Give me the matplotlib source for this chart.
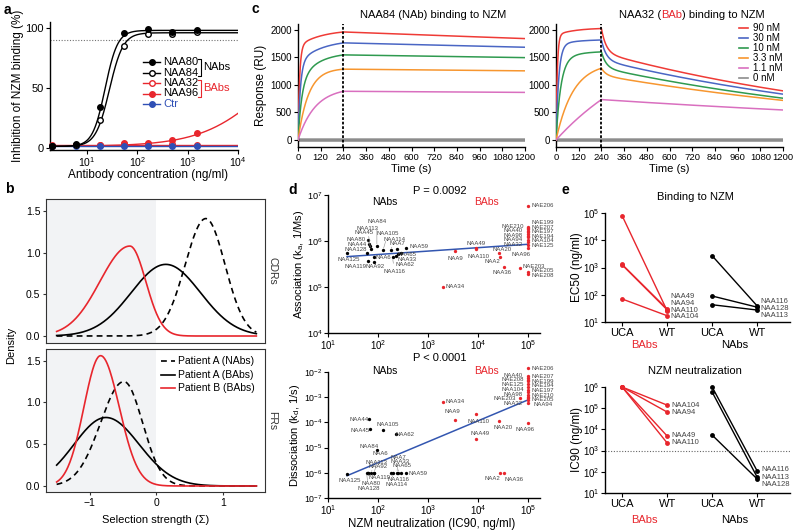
import matplotlib
matplotlib.use('Agg')
import matplotlib.pyplot as plt
import numpy as np
from matplotlib.lines import Line2D
import matplotlib.transforms as mtransforms

plt.rcParams['font.family'] = ['Liberation Sans', 'DejaVu Sans']
plt.rcParams['mathtext.default'] = 'regular'

W, H = 800, 532
RED = '#e8262d'
CTR_BLUE = '#2f4fb5'
FIT_BLUE = '#3356b0'
LABEL_GREY = '#444444'

#======================================================================================
# a : inhibition of NZM binding
conc = [2.06, 6.17, 18.5, 55.6, 167, 500, 1500]
naa80 = [1, 3, 34, 96, 99, 97, 98]
naa84 = [1, 2, 23, 85, 95, 95, 97]
naa32 = [2, 2, 2, 3, 3, 3, 2]
naa96 = [1, 2, 2, 4, 4, 6.5, 12.5]
ctr = [1, 1, 1.5, 1.5, 1.5, 1.5, 1.5]
# Hill fits: bottom, top, EC50, slope
fit80 = (1, 98, 23, 3.5)
fit84 = (1, 96, 28, 3.2)
fit32 = (2, 2, 1, 1)
fit96 = (1, 100, 4.2e4, 0.66)
fitctr = (1.5, 1.5, 1, 1)

# b : selection strength densities (mode, sd left, sd right, peak height)
cdr_a_nabs = (0.74, 0.31, 0.29, 1.41)
cdr_a_babs = (0.14, 0.52, 0.52, 0.86)
cdr_b_babs = (-0.40, 0.45, 0.24, 1.08)
fr_a_nabs = (-0.49, 0.35, 0.28, 1.25)
fr_a_babs = (-0.76, 0.48, 0.50, 0.82)
fr_b_babs = (-0.84, 0.25, 0.28, 1.56)

# c : SPR sensorgrams (90, 30, 10, 3.3, 1.1, 0 nM)
spr_labels = ['90 nM', '30 nM', '10 nM', '3.3 nM', '1.1 nM', '0 nM']
spr_colors = ['#ef3b36', '#4a66c4', '#2f9a4f', '#f7962f', '#d96fbf', '#8c8c8c']
naa84_rf = [1700, 1400, 1050, 1300, 950, 0]
naa84_kf = [0.12, 0.08, 0.05, 0.018, 0.011, 0]
naa84_rs = [300, 420, 540, 0, 0, 0]
naa84_ks = [0.008, 0.008, 0.01, 0, 0, 0]
naa84_fast = [0, 0, 0, 0, 0, 0]
naa84_k1 = [0, 0, 0, 0, 0, 0]
naa84_k2 = [6.6e-5, 4.8e-5, 3.4e-5, 2.5e-5, 2.4e-5, 0]
naa32_rf = [1900, 1720, 1450, 1400, 2000, 0]
naa32_kf = [0.15, 0.07, 0.04, 0.011, 0.0019, 0]
naa32_rs = [130, 100, 160, 0, 0, 0]
naa32_ks = [0.01, 0.01, 0.01, 0, 0, 0]
naa32_fast = [0.216, 0.2, 0.18, 0.1, 0.0, 0]
naa32_k1 = [0.04, 0.04, 0.04, 0.04, 0.04, 0]
naa32_k2 = [6e-4, 5.8e-4, 5.7e-4, 5.1e-4, 3.1e-4, 0]

# d : kinetics vs neutralization
nab_names = ['NAA125', 'NAA128', 'NAA44', 'NAA80', 'NAA45', 'NAA113', 'NAA84', 'NAA105', 'NAA114',
             'NAA7', 'NAA59', 'NAA6', 'NAA65', 'NAA33', 'NAA62', 'NAA116', 'NAA119', 'NAA92']
nab_ic90 = [24, 59, 66, 63, 69, 71, 95, 126, 182, 240, 363, 83, 288, 251, 229, 195, 63, 85]
nab_ka = [5.4e5, 5.4e5, 8.5e5, 1.05e6, 7.8e5, 6.6e5, 7.8e5, 6.3e5, 6.3e5,
          6.6e5, 7.2e5, 4.6e5, 5.6e5, 5.1e5, 4.8e5, 4.4e5, 3.7e5, 3.5e5]
nab_kd = [8.9e-7, 1e-6, 1.35e-4, 1e-6, 5.4e-5, 1e-6, 7.9e-6, 5.0e-5, 1e-6,
          1e-6, 9.5e-7, 1e-6, 1e-6, 1e-6, 3.5e-5, 1e-6, 1e-6, 1e-6]
bab_names = ['NAA34', 'NAA9', 'NAA49', 'NAA110', 'NAA20', 'NAA2', 'NAA36', 'NAE203', 'NAA96',
             'NAE206', 'NAE205', 'NAE208', 'NAE199', 'NAE207', 'NAE197', 'NAE194', 'NAA104',
             'NAE125', 'NAE210', 'NAA40', 'NAA98', 'NAA94', 'NAA32']
bab_ic90 = [2000, 3500, 9300, 9300, 26000, 27500, 33000, 68000, 1e5,
            1e5, 1e5, 1e5, 1e5, 1e5, 1e5, 1e5, 1e5, 1e5, 1e5, 1e5, 1e5, 1e5, 1e5]
bab_ka = [1.0e5, 6.0e5, 6.9e5, 6.6e5, 5.4e5, 4.6e5, 2.75e5, 2.6e5, 6.9e5,
          5.9e6, 2.1e5, 1.95e5, 2.0e6, 1.8e6, 1.6e6, 1.4e6, 1.23e6,
          8.1e5, 1.9e6, 1.66e6, 1.3e6, 1.07e6, 9.5e5]
bab_kd = [6.6e-4, 1.3e-4, 2.2e-5, 2.1e-4, 1.15e-4, 9.5e-7, 9.5e-7, 9.1e-4, 9.1e-5,
          1.4e-2, 7.6e-4, 5.0e-3, 4.4e-3, 5.6e-3, 2.0e-3, 2.6e-3, 1.6e-3,
          3.3e-3, 1.2e-3, 7.1e-3, 9.8e-4, 6.0e-4, 8.9e-4]
# log-log regression lines (slope, intercept)
fit_ka = (0.0742, 5.558)
fit_kd = (0.831, -7.262)

# e : UCA vs WT
ec50_babs_uca = [8e4, 1300, 1250, 70]
ec50_babs_wt = [26, 30, 28, 17]
ec50_babs_names = ['NAA49', 'NAA94', 'NAA110', 'NAA104']
ec50_nabs_uca = [2700, 90, 43]
ec50_nabs_wt = [39, 35, 27.5]
ec50_nabs_names = ['NAA116', 'NAA128', 'NAA113']
ic90_babs_uca = [1e6, 1e6, 1e6, 1e6]
ic90_babs_wt = [1.4e5, 6.6e4, 4900, 2300]
ic90_babs_names = ['NAA104', 'NAA94', 'NAA49', 'NAA110']
ic90_nabs_uca = [1e6, 5.8e5, 5400]
ic90_nabs_wt = [110, 56, 46]
ic90_nabs_names = ['NAA116', 'NAA113', 'NAA128']
e_ticks = ['UCA', 'WT', 'UCA', 'WT']

#======================================================================================
fig = plt.figure(figsize=(W / 100, H / 100), dpi=100)
renderer = fig.canvas.get_renderer()


def box(l, t, r, b):
    return [l / W, 1 - b / H, (r - l) / W, (b - t) / H]


def ftext(x, y, s, **kw):
    kw.setdefault('ha', 'center')
    kw.setdefault('va', 'center')
    return fig.text(x / W, 1 - y / H, s, **kw)


def prism(ax, fs=7):
    for s in ['top', 'right']:
        ax.spines[s].set_visible(False)
    for s in ['left', 'bottom']:
        ax.spines[s].set_linewidth(1)
    ax.tick_params(direction='out', length=3, width=0.8, labelsize=fs, pad=1.5)
    ax.tick_params(which='minor', length=0)


def hill(x, p):
    b, t, ec, h = p
    return b + (t - b) / (1 + (ec / x) ** h)


def split_normal(x, p):
    mu, sl, sr, peak = p
    s = np.where(x < mu, sl, sr)
    return peak * np.exp(-0.5 * ((x - mu) / s) ** 2)


def sensorgram(t, rf, kf, rs, ks, f, k1, k2):
    assoc = rf * (1 - np.exp(-kf * t)) + rs * (1 - np.exp(-ks * t))
    r240 = rf * (1 - np.exp(-kf * 240)) + rs * (1 - np.exp(-ks * 240))
    dt = np.clip(t - 240, 0, None)
    dissoc = r240 * (f * np.exp(-k1 * dt) + (1 - f) * np.exp(-k2 * dt))
    return np.where(t <= 240, assoc, dissoc)


# panel letters
for letter, x, y in [('a', 7, 10), ('b', 9, 189), ('c', 255, 9), ('d', 293, 190), ('e', 565, 190)]:
    ftext(x, y, letter, fontsize=10, fontweight='bold')

#======================================================================================
# a
ax = fig.add_axes(box(50, 22, 238, 150))
prism(ax, 8)
ax.tick_params(axis='x', labelsize=7.5, pad=1)
ax.set_xscale('log')
ax.set_xlim(1.85, 1e4)
ax.set_ylim(-2, 105)
ax.set_xticks([10, 100, 1000, 10000])
ax.set_yticks([0, 50, 100])
ax.minorticks_off()
ax.axhline(90, color='0.45', ls=(0, (1, 1.5)), lw=0.8)
xs = np.logspace(np.log10(1.85), 4, 400)
series_a = [(naa32, fit32, RED, False), (naa96, fit96, RED, True), (ctr, fitctr, CTR_BLUE, True),
            (naa84, fit84, 'k', False), (naa80, fit80, 'k', True)]
for ys, p, c, filled in series_a:
    ax.plot(xs, hill(xs, p), color=c, lw=1)
    ax.plot(conc, ys, 'o', color=c, ms=4, mfc=c if filled else 'white', mew=1, clip_on=False, zorder=3)
ftext(18, 86, 'Inhibition of NZM binding (%)', fontsize=8.5, rotation=90)
ftext(148, 175, 'Antibody concentration (ng/ml)', fontsize=8.5)

leg_a = [('NAA80', 'k', True, 'k'), ('NAA84', 'k', False, 'k'), ('NAA32', RED, False, 'k'),
         ('NAA96', RED, True, 'k'), ('Ctr', CTR_BLUE, True, CTR_BLUE)]
rows_a = [62, 72.5, 83, 93.5, 104]
leg_texts = []
for (lab, c, filled, tc), yp in zip(leg_a, rows_a):
    fig.add_artist(Line2D([143 / W, 160 / W], [1 - yp / H] * 2, color=c, lw=1))
    fig.add_artist(Line2D([152 / W], [1 - yp / H], marker='o', color=c, ms=4,
                          mfc=c if filled else 'white', mew=1))
    leg_texts.append(ftext(163, yp, lab, fontsize=8, color=tc, ha='left'))
for (i0, i1, txt, c) in [(0, 1, 'NAbs', 'k'), (2, 3, 'BAbs', RED)]:
    xb = max(leg_texts[i].get_window_extent(renderer).x1 for i in (i0, i1)) + 3
    y0, y1 = rows_a[i0] - 3.5, rows_a[i1] + 3.5
    fig.add_artist(Line2D([(xb - 3) / W, xb / W, xb / W, (xb - 3) / W],
                          [1 - y0 / H, 1 - y0 / H, 1 - y1 / H, 1 - y1 / H], color=c, lw=0.8))
    ftext(xb + 1.5, (rows_a[i0] + rows_a[i1]) / 2, txt, fontsize=8, color=c, ha='left')

#======================================================================================
# b
sel = np.linspace(-1.5, 1.5, 301)
b_panels = [((46, 199, 265, 343), (-0.084, 1.645), [cdr_a_nabs, cdr_a_babs, cdr_b_babs], 'CDRs', False),
            ((46, 349, 265, 492), (-0.072, 1.64), [fr_a_nabs, fr_a_babs, fr_b_babs], 'FRs', True)]
b_styles = [dict(color='k', ls=(0, (3.5, 2.5))), dict(color='k', ls='-'), dict(color=RED, ls='-')]
for rect, ylim, params, strip, bottom in b_panels:
    ax = fig.add_axes(box(*rect))
    ax.set_xlim(-1.66, 1.63)
    ax.set_ylim(*ylim)
    ax.axvspan(-1.66, 0, color='#f2f3f5', lw=0)
    for p, st in zip(params, b_styles):
        ax.plot(sel, split_normal(sel, p), lw=1.2, **st)
    for s in ax.spines.values():
        s.set_color('#333333')
        s.set_linewidth(0.8)
    ax.set_yticks([0, 0.5, 1.0, 1.5])
    ax.set_yticklabels(['0.0', '0.5', '1.0', '1.5'])
    ax.tick_params(labelsize=7.5, length=2.5, width=0.8, pad=1.5, color='#333333')
    if bottom:
        ax.set_xticks([-1, 0, 1])
    else:
        ax.set_xticks([])
    ftext(272, (rect[1] + rect[3]) / 2, strip, fontsize=7.5, rotation=270, color='#333333')
ftext(11, 345, 'Density', fontsize=8, rotation=90)
ftext(156, 520, 'Selection strength (Σ)', fontsize=8)
leg_b = ['Patient A (NAbs)', 'Patient A (BAbs)', 'Patient B (BAbs)']
for lab, st, yp in zip(leg_b, b_styles, [361, 375, 388]):
    fig.add_artist(Line2D([161 / W, 175 / W], [1 - yp / H] * 2, lw=1.2, **st))
    ftext(178, yp, lab, fontsize=7.5, ha='left')

#======================================================================================
# c
t = np.arange(0, 1201)
spr_sets = [((298, 24, 525, 147), naa84_rf, naa84_kf, naa84_rs, naa84_ks, naa84_fast, naa84_k1, naa84_k2),
            ((556, 24, 783, 147), naa32_rf, naa32_kf, naa32_rs, naa32_ks, naa32_fast, naa32_k1, naa32_k2)]
c_axes = []
for rect, rf, kf, rs, ks, f, k1, k2 in spr_sets:
    ax = fig.add_axes(box(*rect))
    prism(ax, 7)
    ax.set_xlim(0, 1200)
    ax.set_ylim(-126, 2100)
    for i in range(len(spr_labels)):
        y = sensorgram(t, rf[i], kf[i], rs[i], ks[i], f[i], k1[i], k2[i])
        ax.plot(t, y, color=spr_colors[i], lw=2.5 if i == 5 else 1.1, zorder=3 if i < 5 else 2)
    ax.axvline(240, color='k', ls=(0, (1.5, 1)), lw=1.3, zorder=4)
    ax.set_xticks(np.arange(0, 1201, 120))
    ax.set_yticks([0, 500, 1000, 1500, 2000])
    ax.tick_params(axis='x', labelsize=6.8)
    ax.set_xlabel('Time (s)', fontsize=8, labelpad=1)
    c_axes.append(ax)
c_axes[0].set_ylabel('Response (RU)', fontsize=8.5, labelpad=2)
ftext(433, 15, 'NAA84 (NAb) binding to NZM', fontsize=8)
parts = [('NAA32 (', 'k'), ('BAb', RED), (') binding to NZM', 'k')]
pieces = [ftext(0, 15, s, color=c, fontsize=8, ha='left') for s, c in parts]
widths = [p.get_window_extent(renderer).width for p in pieces]
xcur = 692 - sum(widths) / 2
for p, w in zip(pieces, widths):
    p.set_x(xcur / W)
    xcur += w
handles = [Line2D([], [], color=c, lw=1.2) for c in spr_colors]
c_axes[1].legend(handles, spr_labels, loc='upper left', bbox_to_anchor=(739 / W, 1 - 23 / H),
                 bbox_transform=fig.transFigure, frameon=False, fontsize=7, handlelength=0.9,
                 handletextpad=0.5, labelspacing=0.0, borderpad=0, borderaxespad=0)

#======================================================================================
# d
nab_top_off = {'NAA125': (2, -6), 'NAA128': (-11, 4), 'NAA44': (-12, 0), 'NAA80': (-12, 1),
               'NAA45': (-6, 13), 'NAA113': (-3, 21), 'NAA84': (0, 24), 'NAA105': (5, 17),
               'NAA114': (3, 11), 'NAA7': (0, 6), 'NAA59': (13, 1), 'NAA6': (9, -1),
               'NAA65': (6, -2), 'NAA33': (9, -5), 'NAA62': (9, -9), 'NAA116': (2, -14),
               'NAA119': (-12, -6), 'NAA92': (1, -5)}
nab_bot_off = {'NAA44': (-10, 0), 'NAA45': (-10, -1), 'NAA105': (5, 5), 'NAA62': (9, -1),
               'NAA84': (-8, 4), 'NAA6': (6, 19), 'NAA125': (3, -6), 'NAA128': (2, -16),
               'NAA80': (3, -11), 'NAA119': (12, -5), 'NAA113': (6, 10), 'NAA92': (4, 6),
               'NAA7': (1, 15), 'NAA33': (2, 11), 'NAA65': (1, 7), 'NAA59': (12, 0),
               'NAA116': (6, -7), 'NAA114': (5, -12)}
bab_top_off = {'NAA34': (12, 0), 'NAA9': (0, -7), 'NAA49': (0, 5), 'NAA110': (2, -7),
               'NAA20': (3, 4), 'NAA2': (-8, -5), 'NAA36': (-2, -6), 'NAE203': (14, 1),
               'NAA96': (-7, -6)}
bab_bot_off = {'NAA34': (12, 0), 'NAA9': (-3, 8), 'NAA110': (2, -7), 'NAA49': (4, 5),
               'NAA20': (4, -7), 'NAA96': (-3, -6), 'NAA2': (-8, -5), 'NAA36': (10, -6)}
# label columns beside the stacked points at IC90 = 1e5
top_right = ['NAE206', 'NAE199', 'NAE207', 'NAE197', 'NAE194', 'NAA104', 'NAE125', 'NAE205', 'NAE208']
top_left = ['NAE210', 'NAA40', 'NAA98', 'NAA94', 'NAA32']
bot_right = ['NAE206', 'NAE207', 'NAE199', 'NAE194', 'NAE197', 'NAE210', 'NAE205', 'NAA94']
bot_left = ['NAA40', 'NAE208', 'NAE125', 'NAA104', 'NAA98', 'NAE203', 'NAA32']


def stacked_offsets(ax, xv, yv, names, group, dx, gap=4.6):
    pts = {n: ax.transData.transform((x, y))[1] for x, y, n in zip(xv, yv, names) if n in group}
    order = sorted(pts, key=lambda n: -pts[n])
    orig = [pts[n] for n in order]
    placed = list(orig)
    for _ in range(200):
        for i in range(len(placed) - 1):
            d = placed[i] - placed[i + 1]
            if d < gap:
                m = (gap - d) / 2
                placed[i] += m
                placed[i + 1] -= m
    return {n: (dx, placed[i] - orig[i]) for i, n in enumerate(order)}


def label_points(ax, xv, yv, names, offsets, default):
    for x, y, n in zip(xv, yv, names):
        dx, dy = offsets.get(n, default)
        lead = abs(dy) > 9
        ax.annotate(n, (x, y), xytext=(dx, dy), textcoords='offset pixels', fontsize=4.3,
                    color=LABEL_GREY, ha='center', va='center', annotation_clip=False,
                    arrowprops=dict(arrowstyle='-', lw=0.4, color='0.55', shrinkA=2, shrinkB=1.5) if lead else None)


all_ic90 = np.array(nab_ic90 + bab_ic90, dtype=float)
fx = np.logspace(np.log10(all_ic90.min()), np.log10(all_ic90.max()), 50)
d_sets = [((328, 195, 540, 333), (1e4, 1e7), nab_ka, bab_ka, fit_ka, nab_top_off, bab_top_off,
           top_right, top_left, 'Association (k$_a$, 1/Ms)', 'P = 0.0092', 191, 202, 299, 6.6),
          ((328, 372, 540, 498), (1e-7, 1e-2), nab_kd, bab_kd, fit_kd, nab_bot_off, bab_bot_off,
           bot_right, bot_left, 'Dissociation (k$_d$, 1/s)', 'P < 0.0001', 358, 371, 295, 6.3)]
for rect, ylim, nab_y, bab_y, fit, noff, boff, col_r, col_l, ylab, ptxt, py, gy, ylx, yfs in d_sets:
    ax = fig.add_axes(box(*rect))
    prism(ax, 7)
    ax.tick_params(pad=1)
    ax.tick_params(axis='y', labelsize=yfs)
    ax.set_xscale('log')
    ax.set_yscale('log')
    ax.set_xlim(10, 10 ** 5.24)
    ax.set_ylim(*ylim)
    ax.set_xticks([1e1, 1e2, 1e3, 1e4, 1e5])
    ax.minorticks_off()
    ax.plot(fx, 10 ** (fit[1] + fit[0] * np.log10(fx)), color=FIT_BLUE, lw=1.1, zorder=2)
    ax.plot(nab_ic90, nab_y, 'o', color='k', ms=2.4, mew=0, zorder=3)
    ax.plot(bab_ic90, bab_y, 'o', color=RED, ms=2.4, mew=0, zorder=3, clip_on=False)
    boff = dict(boff)
    boff.update(stacked_offsets(ax, bab_ic90, bab_y, bab_names, col_r, 15))
    boff.update(stacked_offsets(ax, bab_ic90, bab_y, bab_names, col_l, -15))
    label_points(ax, nab_ic90, nab_y, nab_names, noff, (0, -6))
    label_points(ax, bab_ic90, bab_y, bab_names, boff, (15, 0))
    ftext(ylx, (rect[1] + rect[3]) / 2, ylab, fontsize=8, rotation=90)
    ftext(440, py, ptxt, fontsize=8)
    ftext(385, gy, 'NAbs', fontsize=7.5)
    ftext(486, gy, 'BAbs', fontsize=7.5, color=RED)
ftext(432, 524, 'NZM neutralization (IC90, ng/ml)', fontsize=8.3)

#======================================================================================
# e
e_sets = [((605, 213, 790, 322), (10, 1e5), ec50_babs_uca, ec50_babs_wt, ec50_nabs_uca, ec50_nabs_wt,
           'Binding to NZM', 197, 'EC50 (ng/ml)'),
          ((605, 387, 790, 493), (10, 1e6), ic90_babs_uca, ic90_babs_wt, ic90_nabs_uca, ic90_nabs_wt,
           'NZM neutralization', 371, 'IC90 (ng/ml)')]
e_axes = []
for rect, ylim, bu, bw, nu, nw, title, ty, ylab in e_sets:
    ax = fig.add_axes(box(*rect))
    prism(ax, 7)
    ax.tick_params(pad=1)
    ax.set_yscale('log')
    ax.set_ylim(*ylim)
    ax.set_xlim(-0.38, 3.73)
    ax.minorticks_off()
    ax.set_xticks(range(4))
    ax.set_xticklabels(e_ticks, fontsize=8)
    for u, w in zip(bu, bw):
        ax.plot([0, 1], [u, w], '-o', color=RED, lw=1, ms=3.5, mew=0, clip_on=False)
    for u, w in zip(nu, nw):
        ax.plot([2, 3], [u, w], '-o', color='k', lw=1, ms=3.5, mew=0, clip_on=False)
    trans = mtransforms.blended_transform_factory(ax.transData, ax.transAxes)
    gy = -0.21 if ylim[1] < 1e6 else -0.255
    ax.text(0.5, gy, 'BAbs', color=RED, fontsize=8, ha='center', va='center', transform=trans)
    ax.text(2.5, gy, 'NAbs', color='k', fontsize=8, ha='center', va='center', transform=trans)
    ftext(695, ty, title, fontsize=8)
    ftext(577, (rect[1] + rect[3]) / 2, ylab, fontsize=8.5, rotation=90)
    e_axes.append((ax, trans))

ax, trans = e_axes[0]
for i, n in enumerate(ec50_babs_names):
    ax.text(1.08, 0.232 - 0.061 * i, n, fontsize=5.5, color=LABEL_GREY, va='center', ha='left', transform=trans)
for i, n in enumerate(ec50_nabs_names):
    ax.text(3.08, 0.186 - 0.061 * i, n, fontsize=5.5, color=LABEL_GREY, va='center', ha='left', transform=trans)

ax, trans = e_axes[1]
ax.axhline(1000, color='0.4', ls=(0, (1, 1.5)), lw=0.8)
for v, n in zip(ic90_babs_wt, ic90_babs_names):
    ax.annotate(n, (1, v), xytext=(4, 0), textcoords='offset pixels', fontsize=5.5,
                color=LABEL_GREY, va='center', ha='left')
nab_ic_off = {'NAA116': 1, 'NAA113': 0, 'NAA128': -6}
for v, n in zip(ic90_nabs_wt, ic90_nabs_names):
    ax.annotate(n, (3, v), xytext=(4, nab_ic_off[n]), textcoords='offset pixels', fontsize=5.5,
                color=LABEL_GREY, va='center', ha='left')

fig.savefig('out.png', dpi=100)
